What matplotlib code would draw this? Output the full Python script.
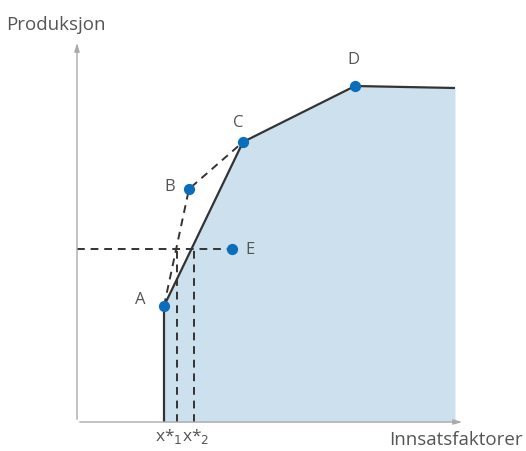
import matplotlib.pyplot as plt

# punkter (x = innsats, y = produksjon), origo i aksekrysset
labels = ["A", "B", "C", "D", "E"]
px = [87, 112, 166, 278, 155]
py = [116, 233, 280, 336, 173]

# produksjonsmulighetskurven
front_x = [87, 87, 166, 278, 378]
front_y = [0, 116, 280, 336, 334]

# stiplede linjer
abc_x = [87, 112, 166]
abc_y = [116, 233, 280]
e_level = 173
xstar1 = 100
xstar2 = 117

fig = plt.figure(figsize=(5.26, 4.51), dpi=100)
ax = fig.add_axes([0, 0, 1, 1])
ax.set_xlim(-77, 449)
ax.set_ylim(-29, 422)
ax.axis("off")

plt.rcParams['font.family'] = ['Open Sans', 'DejaVu Sans']
grey = "#555555"
blue = "#0a6ebd"

# akser med piler
ax.annotate("", xy=(0, 382), xytext=(0, 0),
            arrowprops=dict(arrowstyle="-|>,head_width=0.15,head_length=0.5", color="#aaaaaa", lw=1))
ax.annotate("", xy=(388, 0), xytext=(0, 0),
            arrowprops=dict(arrowstyle="-|>,head_width=0.15,head_length=0.5", color="#aaaaaa", lw=1))

ax.fill_between(front_x, front_y, 0, color="#cce0ed", lw=0)
ax.plot(front_x, front_y, color="#333333", lw=1.6, solid_capstyle="butt")

dash = (0, (4, 3))
ax.plot(abc_x, abc_y, color="#333333", lw=1.4, ls=dash)
ax.plot([0, px[4]], [e_level, e_level], color="#333333", lw=1.4, ls=dash)
ax.plot([xstar1, xstar1], [0, e_level], color="#333333", lw=1.4, ls=dash)
ax.plot([xstar2, xstar2], [0, e_level], color="#333333", lw=1.4, ls=dash)

ax.scatter(px, py, s=50, color=blue, zorder=5)

offsets = {"A": (-24, 6), "B": (-19, 2), "C": (-5, 19), "D": (-2, 26), "E": (18, -1)}
for lab, x, y in zip(labels, px, py):
    dx, dy = offsets[lab]
    ax.text(x + dx, y + dy, lab, fontsize=12, color=grey, ha="center", va="center")

ax.text(-71, 397, "Produksjon", fontsize=13.5, color=grey, ha="left", va="center")
ax.text(446, -18, "Innsatsfaktorer", fontsize=13.5, color=grey, ha="right", va="center")
ax.text(xstar1 - 8, -15, r"x*$_{1}$", fontsize=12.5, color=grey, ha="center", va="center")
ax.text(xstar2 + 2, -15, r"x*$_{2}$", fontsize=12.5, color=grey, ha="center", va="center")

fig.savefig("out.png", dpi=100)
